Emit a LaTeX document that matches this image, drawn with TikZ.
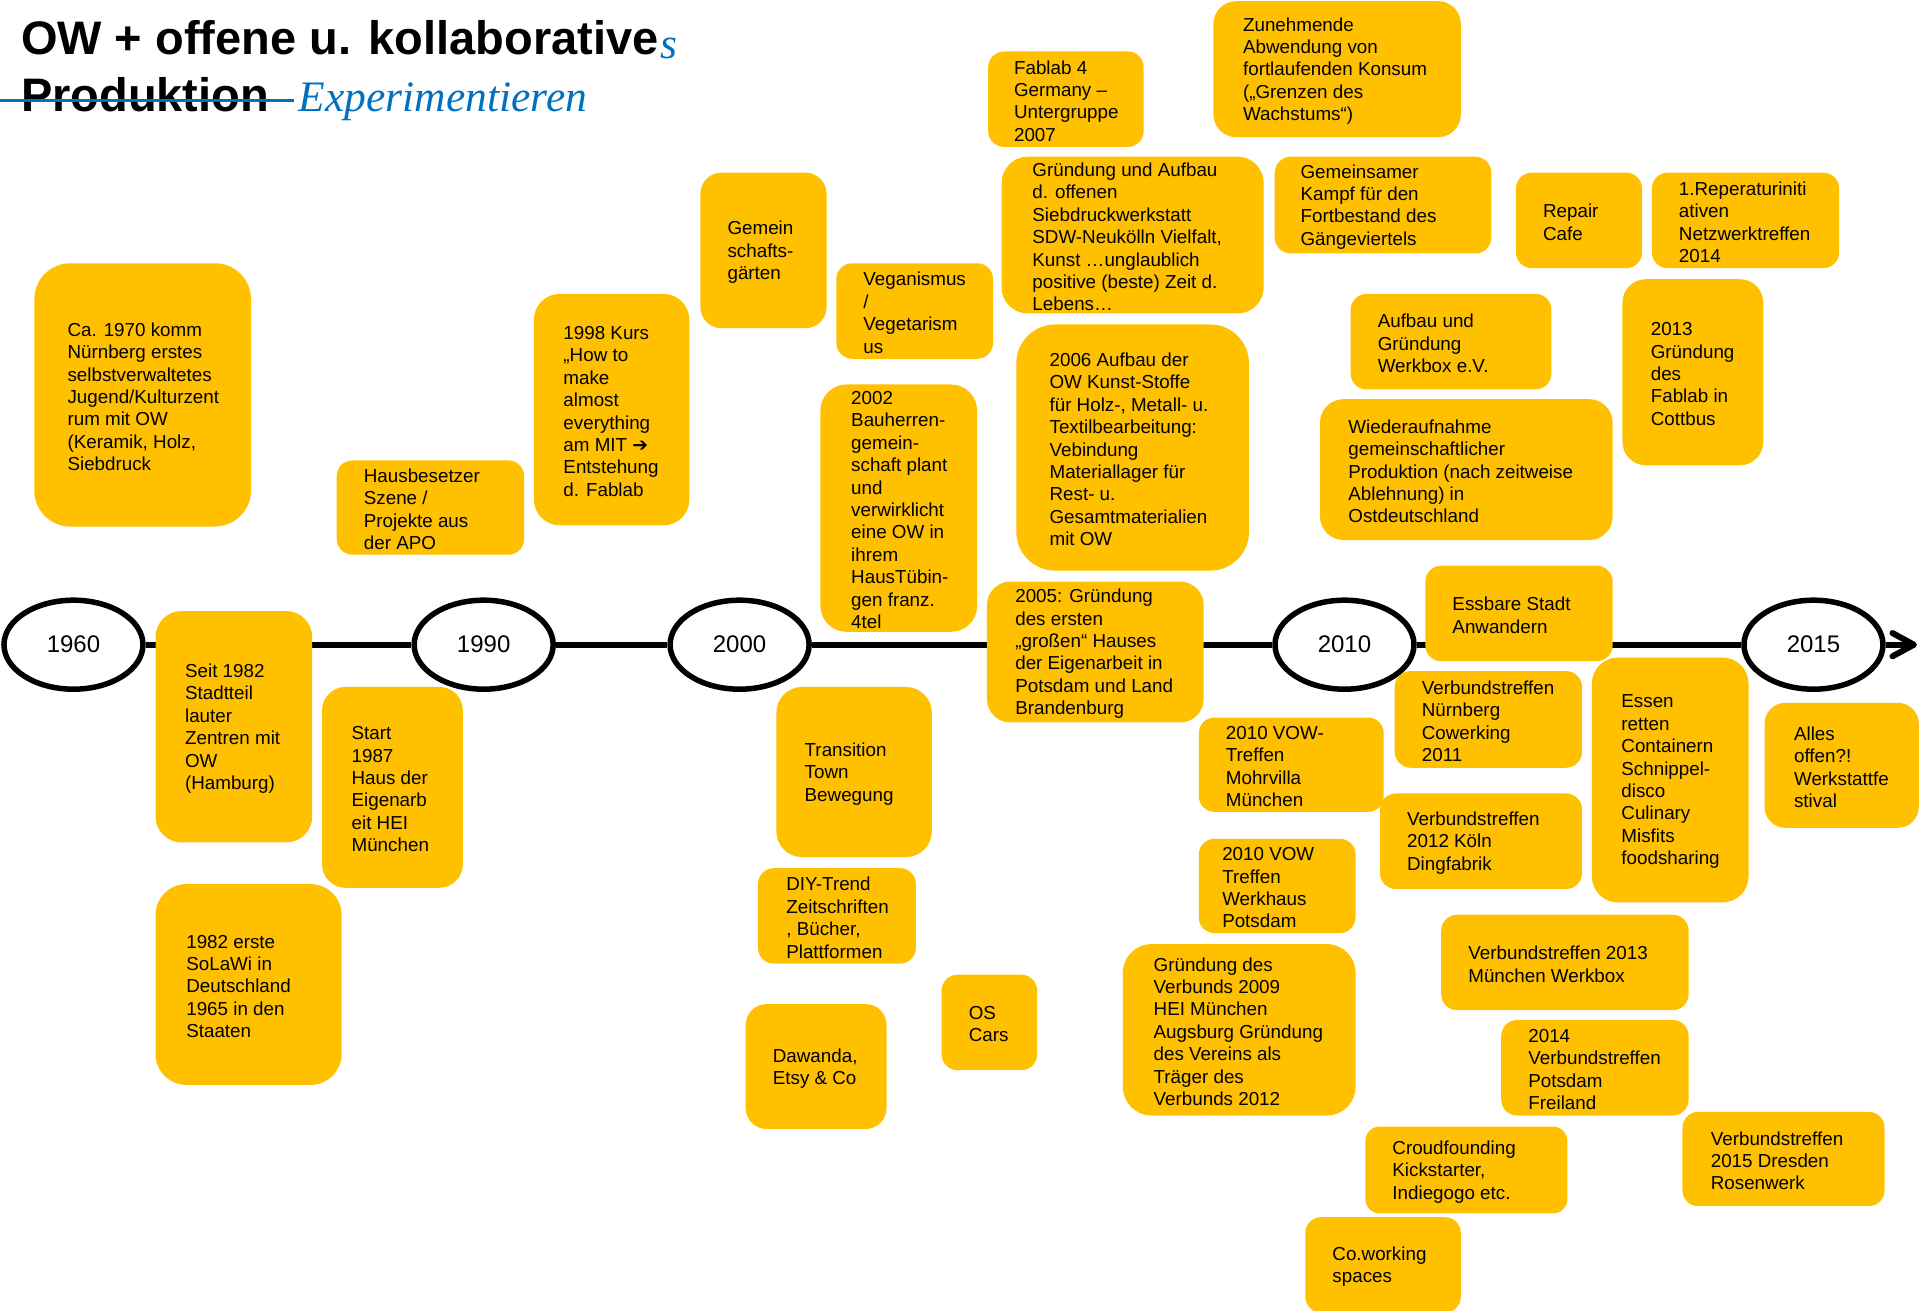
\documentclass[tikz,border=0pt]{standalone}
\usepackage{fontspec}
\setmainfont{Liberation Sans}
\newfontfamily\djv{DejaVu Sans}
\newfontfamily\scr{Liberation Serif}
\usetikzlibrary{fit,arrows.meta,shapes.geometric}
\definecolor{boxyellow}{HTML}{FFC000}
\definecolor{pptblue}{HTML}{0070C0}
\newcommand\bx[7]{%
  \pgfmathsetmacro\bw{abs(#4-#2)}%
  \pgfmathsetmacro\bh{abs(#5-#3)}%
  \pgfmathsetmacro\br{min(\bw,\bh)*1.2245/6}%
  \node[box, rounded corners=\br pt, fit={(#2,#3) (#4,#5)}] (#1) {};
  \node[txt, anchor=west] (#1-t) at (#6,{(#3+#5)/2+1.5}) {#7};
}
\begin{document}
\begin{tikzpicture}[x=1.2245pt,y=-1.2245pt,
  box/.style={fill=boxyellow, inner sep=0pt, draw=none},
  txt/.style={font=\fontsize{18.8}{22.4}\selectfont, align=left, inner sep=0pt, text=black},
  yr/.style={ellipse, draw=black, line width=5.5pt, fill=white, minimum width=139pt, minimum height=89pt, font=\fontsize{24}{28}\selectfont, inner sep=0pt},
  tl/.style={line width=6pt, draw=black},
  chev/.style={line width=6pt, draw=black, line cap=round, line join=round},
  ttl/.style={font=\bfseries\fontsize{47}{56}\selectfont, inner sep=0pt, anchor=base west},
  scrt/.style={font=\scr\itshape\fontsize{43.5}{50}\selectfont, text=pptblue, inner sep=0pt, anchor=base west}
]
\useasboundingbox (0,0) rectangle (1568,1070);
\clip (0,0) rectangle (1568,1070);

% title
\node[ttl] (t1) at (17,44.5) {OW + offene u. kollaborative};
\node[scrt] (t1s) at ([xshift=1pt,yshift=-4pt]t1.base east) {s};
\node[ttl] (t2) at (17,91) {Produktion};
\coordinate (s1) at (0,82);
\coordinate (s2) at (240,82);
\draw[pptblue, line width=3.5pt] (s1) -- (s2);
\node[scrt] (t3) at (244,91) {Experimentieren};

% timeline
\node[yr] (y1960) at (60,526.5) {1960};
\node[yr] (y1990) at (395,526.5) {1990};
\node[yr] (y2000) at (604,526.5) {2000};
\node[yr] (y2010) at (1098,526.5) {2010};
\node[yr] (y2015) at (1481,526.5) {2015};
\coordinate (tlend) at (1563,526.5);
\coordinate (chevA) at (1545.5,517);
\coordinate (chevB) at (1545.5,536);
\draw[tl] (y1960) -- (y1990);
\draw[tl] (y1990) -- (y2000);
\draw[tl] (y2000) -- (y2010);
\draw[tl] (y2010) -- (y2015);
\draw[tl] (y2015) -- (tlend);
\draw[chev] (chevA) -- (tlend) -- (chevB);

% boxes
\bx{b1}{28}{215}{205}{430}{55}{Ca. 1970 komm\\Nürnberg erstes\\selbstverwaltetes\\Jugend/Kulturzent\\rum mit OW\\(Keramik, Holz,\\Siebdruck}
\bx{b2}{275}{376}{428}{453}{297}{Hausbesetzer\\Szene /\\Projekte aus\\der APO}
\bx{b3}{436}{240}{563}{429}{460}{1998 Kurs\\„How to\\make\\almost\\everything\\am MIT {\djv ➔}\\Entstehung\\d. Fablab}
\bx{b4}{572}{141}{675}{268}{594}{Gemein\\schafts-\\gärten}
\bx{b5}{683}{215}{811}{293}{705}{Veganismus\\/\\Vegetarism\\us}
\bx{b6}{670}{314}{798}{516}{695}{2002\\Bauherren-\\gemein-\\schaft plant\\und\\verwirklicht\\eine OW in\\ihrem\\HausTübin-\\gen franz.\\4tel}
\bx{b7}{807}{42}{934}{120}{828}{Fablab 4\\Germany –\\Untergruppe\\2007}
\bx{b8}{991}{1}{1193}{112}{1015}{Zunehmende\\Abwendung von\\fortlaufenden Konsum\\(„Grenzen des\\Wachstums“)}
\bx{b9}{818}{128}{1032}{256}{843}{Gründung und Aufbau\\d. offenen\\Siebdruckwerkstatt\\SDW-Neukölln Vielfalt,\\Kunst …unglaublich\\positive (beste) Zeit d.\\Lebens…}
\bx{b10}{1041}{128}{1218}{207}{1062}{Gemeinsamer\\Kampf für den\\Fortbestand des\\Gängeviertels}
\bx{b11}{1238}{141}{1341}{219}{1260}{Repair\\Cafe}
\bx{b12}{1349}{141}{1502}{219}{1371}{1.Reperaturiniti\\ativen\\Netzwerktreffen\\2014}
\bx{b13}{1103}{240}{1267}{318}{1125}{Aufbau und\\Gründung\\Werkbox e.V.}
\bx{b14}{1325}{228}{1440}{380}{1348}{2013\\Gründung\\des\\Fablab in\\Cottbus}
\bx{b15}{830}{265}{1020}{466}{857}{2006 Aufbau der\\OW Kunst-Stoffe\\für Holz-, Metall- u.\\Textilbearbeitung:\\Vebindung\\Materiallager für\\Rest- u.\\Gesamtmaterialien\\mit OW}
\bx{b16}{1078}{326}{1317}{441}{1101}{Wiederaufnahme\\gemeinschaftlicher\\Produktion (nach zeitweise\\Ablehnung) in\\Ostdeutschland}
\bx{b17}{806}{475}{983}{590}{829}{2005: Gründung\\des ersten\\„großen“ Hauses\\der Eigenarbeit in\\Potsdam und Land\\Brandenburg}
\bx{b18}{1164}{462}{1317}{540}{1186}{Essbare Stadt\\Anwandern}
\bx{b19}{127}{499}{255}{688}{151}{Seit 1982\\Stadtteil\\lauter\\Zentren mit\\OW\\(Hamburg)}
\bx{b20}{263}{561}{378}{725}{287}{Start\\1987\\Haus der\\Eigenarb\\eit HEI\\München}
\bx{b21}{127}{722}{279}{886}{152}{1982 erste\\SoLaWi in\\Deutschland\\1965 in den\\Staaten}
\bx{b22}{634}{561}{761}{700}{657}{Transition\\Town\\Bewegung}
\bx{b23}{619}{709}{748}{787}{642}{DIY-Trend\\Zeitschriften\\, Bücher,\\Plattformen}
\bx{b24}{609}{820}{724}{922}{631}{Dawanda,\\Etsy \& Co}
\bx{b25}{769}{796}{847}{874}{791}{OS\\Cars}
\bx{b26}{979}{586}{1130}{663}{1001}{2010 VOW-\\Treffen\\Mohrvilla\\München}
\bx{b27}{979}{685}{1107}{762}{998}{2010 VOW\\Treffen\\Werkhaus\\Potsdam}
\bx{b28}{917}{771}{1107}{911}{942}{Gründung des\\Verbunds 2009\\HEI München\\Augsburg Gründung\\des Vereins als\\Träger des\\Verbunds 2012}
\bx{b29}{1139}{548}{1292}{627}{1161}{Verbundstreffen\\Nürnberg\\Cowerking\\2011}
\bx{b30}{1127}{648}{1292}{726}{1149}{Verbundstreffen\\2012 Köln\\Dingfabrik}
\bx{b31}{1300}{537}{1428}{737}{1324}{Essen\\retten\\Containern\\Schnippel-\\disco\\Culinary\\Misfits\\foodsharing}
\bx{b32}{1441}{574}{1567}{676}{1465}{Alles\\offen?!\\Werkstattfe\\stival}
\bx{b33}{1177}{747}{1379}{825}{1199}{Verbundstreffen 2013\\München Werkbox}
\bx{b34}{1226}{833}{1379}{911}{1248}{2014\\Verbundstreffen\\Potsdam\\Freiland}
\bx{b35}{1115}{920}{1280}{991}{1137}{Croudfounding\\Kickstarter,\\Indiegogo etc.}
\bx{b36}{1374}{908}{1539}{985}{1397}{Verbundstreffen\\2015 Dresden\\Rosenwerk}
\bx{b37}{1066}{994}{1193}{1072}{1088}{Co.working\\spaces}
\end{tikzpicture}
\end{document}
